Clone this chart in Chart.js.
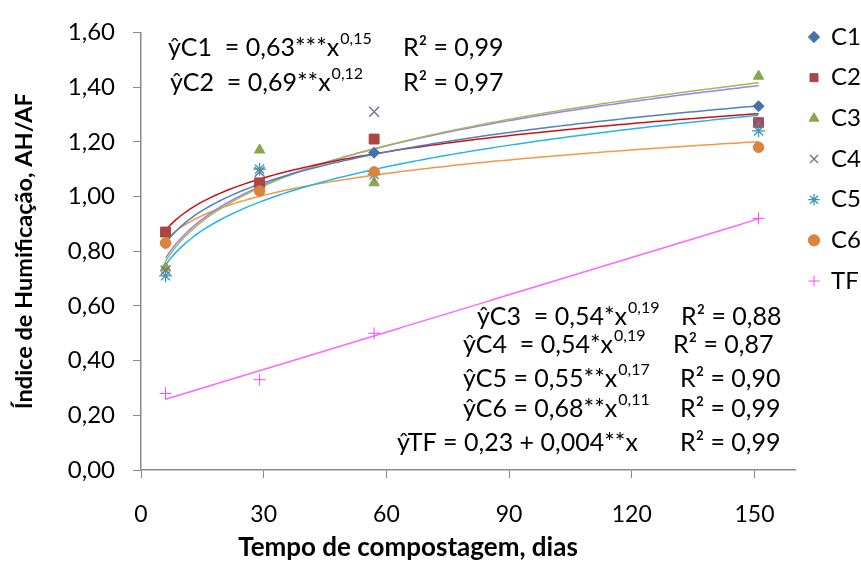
<!DOCTYPE html>
<html>
<head>
<meta charset="utf-8">
<script src="https://cdn.jsdelivr.net/npm/chart.js@4.4.1/dist/chart.umd.min.js"></script>
<style>
  html, body { margin: 0; padding: 0; background: #ffffff; }
  #chart { display: block; }
</style>
</head>
<body>
<canvas id="chart" width="861" height="562"></canvas>
<script>
// Sampling days and humification index (AH/AF) per treatment
const days = [6, 29, 57, 151];
const seriesNames = ['C1', 'C2', 'C3', 'C4', 'C5', 'C6', 'TF'];
const c1 = [0.83, 1.04, 1.16, 1.33];
const c2 = [0.87, 1.05, 1.21, 1.27];
const c3 = [0.74, 1.17, 1.05, 1.44];
const c4 = [0.73, 1.09, 1.31, 1.27];
const c5 = [0.71, 1.10, 1.08, 1.24];
const c6 = [0.83, 1.02, 1.09, 1.18];
const tf = [0.28, 0.33, 0.50, 0.92];

// Axis ticks
const xTicks = [0, 30, 60, 90, 120, 150];
const yTicks = [0, 0.2, 0.4, 0.6, 0.8, 1.0, 1.2, 1.4, 1.6];
const yTickLabels = ['0,00', '0,20', '0,40', '0,60', '0,80', '1,00', '1,20', '1,40', '1,60'];

// Regression equations as printed on the chart
const eqLhs = ['ŷC1  = 0,63***x', 'ŷC2  = 0,69**x', 'ŷC3  = 0,54*x', 'ŷC4  = 0,54*x', 'ŷC5 = 0,55**x', 'ŷC6 = 0,68**x', 'ŷTF = 0,23 + 0,004**x'];
const eqExp = ['0,15', '0,12', '0,19', '0,19', '0,17', '0,11', ''];
const eqR2 = ['R² = 0,99', 'R² = 0,97', 'R² = 0,88', 'R² = 0,87', 'R² = 0,90', 'R² = 0,99', 'R² = 0,99'];

const xTitle = 'Tempo de compostagem, dias';
const yTitle = 'Índice de Humificação, AH/AF';

// ---- styling ----
const FONT = 'Lato';
const LEGEND_FONT = 24;
const LEGEND_GAP = 40.67 - LEGEND_FONT;
const seriesValues = [c1, c2, c3, c4, c5, c6, tf];
const markerStyle = [
  { pointStyle: 'rectRot',  radius: 5.5, fill: '#4572a7', stroke: '#4572a7', bw: 1 },
  { pointStyle: 'rect',     radius: 7,   fill: '#aa4643', stroke: '#aa4643', bw: 1 },
  { pointStyle: 'triangle', radius: 6,   fill: '#89a54e', stroke: '#89a54e', bw: 1 },
  { pointStyle: 'crossRot', radius: 7,   fill: '#80699b', stroke: '#80699b', bw: 1.4 },
  { pointStyle: 'star',     radius: 6.5, fill: '#3d96ae', stroke: '#3d96ae', bw: 1.3 },
  { pointStyle: 'circle',   radius: 5.3, fill: '#db843d', stroke: '#db843d', bw: 1 },
  { pointStyle: 'cross',    radius: 6,   fill: '#ff44ff', stroke: '#ff44ff', bw: 1 }
];
const trendColors = ['#4f81bd', '#cc1111', '#9bbb59', '#a27cf2', '#22b4ee', '#f79646', '#ff66ff'];

// Equation placement (canvas px)
const eqPos = [
  { x: 168, y: 48,  r2x: 403 },
  { x: 170, y: 83,  r2x: 403 },
  { x: 477, y: 317, r2x: 681 },
  { x: 463, y: 345, r2x: 673 },
  { x: 463, y: 379, r2x: 680 },
  { x: 463, y: 409, r2x: 680 },
  { x: 397, y: 443, r2x: 680 }
];

// ---- least-squares trend lines (power for composts, linear for TF) ----
function powerFit(xs, ys) {
  const lx = xs.map(Math.log), ly = ys.map(Math.log), n = xs.length;
  const mx = lx.reduce((a, b) => a + b, 0) / n, my = ly.reduce((a, b) => a + b, 0) / n;
  let sxx = 0, sxy = 0;
  for (let i = 0; i < n; i++) { sxx += (lx[i] - mx) ** 2; sxy += (lx[i] - mx) * (ly[i] - my); }
  const b = sxy / sxx, a = Math.exp(my - b * mx);
  return x => a * Math.pow(x, b);
}
function linearFit(xs, ys) {
  const n = xs.length;
  const mx = xs.reduce((a, b) => a + b, 0) / n, my = ys.reduce((a, b) => a + b, 0) / n;
  let sxx = 0, sxy = 0;
  for (let i = 0; i < n; i++) { sxx += (xs[i] - mx) ** 2; sxy += (xs[i] - mx) * (ys[i] - my); }
  const b = sxy / sxx, a = my - b * mx;
  return x => a + b * x;
}
function curve(f, xs) {
  const pts = [], x0 = xs[0], x1 = xs[xs.length - 1], steps = 120;
  for (let k = 0; k <= steps; k++) {
    const x = x0 + (x1 - x0) * k / steps;
    pts.push({ x, y: f(x) });
  }
  return pts;
}

const datasets = [];
seriesValues.forEach((vals, i) => {
  const m = markerStyle[i];
  datasets.push({
    label: seriesNames[i],
    data: days.map((d, j) => ({ x: d, y: vals[j] })),
    showLine: false,
    pointStyle: m.pointStyle,
    pointRadius: m.radius,
    pointHoverRadius: m.radius,
    pointBackgroundColor: m.fill,
    pointBorderColor: m.stroke,
    pointBorderWidth: m.bw,
    backgroundColor: m.fill,
    borderColor: m.stroke,
    order: 6 - i
  });
});
seriesValues.forEach((vals, i) => {
  const f = seriesNames[i] === 'TF' ? linearFit(days, vals) : powerFit(days, vals);
  datasets.push({
    label: seriesNames[i] + ' trend',
    data: curve(f, days),
    showLine: true,
    pointRadius: 0,
    pointHoverRadius: 0,
    borderColor: trendColors[i],
    backgroundColor: trendColors[i],
    borderWidth: 1.5,
    fill: false,
    tension: 0,
    order: 20 + i
  });
});

// Equations and the horizontal axis title
const annotations = {
  id: 'annotations',
  afterDraw(chart) {
    const ctx = chart.ctx;
    ctx.save();
    ctx.fillStyle = '#000';
    ctx.textAlign = 'left';
    ctx.textBaseline = 'middle';
    eqLhs.forEach((txt, i) => {
      const p = eqPos[i];
      ctx.font = `25px ${FONT}`;
      ctx.fillText(txt, p.x, p.y);
      const w = ctx.measureText(txt).width;
      if (eqExp[i]) {
        ctx.font = `16px ${FONT}`;
        ctx.fillText(eqExp[i], p.x + w + 1, p.y - 9);
      }
      ctx.font = `25px ${FONT}`;
      ctx.fillText(eqR2[i], p.r2x, p.y);
    });
    ctx.font = `bold 26px ${FONT}`;
    ctx.textAlign = 'center';
    ctx.fillText(xTitle, 408, 548);
    ctx.restore();
  }
};

// Position the legend column: first marker centred at (814, 37)
const legendPlacement = {
  id: 'legendPlacement',
  afterLayout(chart) {
    const lg = chart.legend;
    if (!lg) return;
    const dx = (814 - 5 - LEGEND_GAP) - lg.left;
    lg.left += dx; lg.right += dx;
    const dy = (37 - LEGEND_FONT / 2 - LEGEND_GAP) - lg.top;
    lg.top += dy; lg.bottom += dy;
  }
};

const axisColor = '#8a8a8a';

new Chart(document.getElementById('chart'), {
  type: 'scatter',
  data: { datasets },
  plugins: [annotations, legendPlacement],
  options: {
    responsive: false,
    animation: false,
    devicePixelRatio: 1,
    layout: { padding: { top: 27, right: -13, bottom: 0, left: 0 } },
    plugins: {
      tooltip: { enabled: false },
      legend: {
        position: 'right',
        align: 'start',
        labels: {
          usePointStyle: true,
          boxWidth: 10,
          boxHeight: 8,
          padding: LEGEND_GAP,
          color: '#000',
          font: { family: FONT, size: LEGEND_FONT },
          filter: item => item.datasetIndex < seriesNames.length,
          sort: (a, b) => a.datasetIndex - b.datasetIndex
        }
      }
    },
    scales: {
      x: {
        type: 'linear',
        min: 0,
        max: 160,
        afterBuildTicks: axis => { axis.ticks = xTicks.map(v => ({ value: v })); },
        afterFit: axis => { axis.height = 92; },
        grid: { display: true, drawOnChartArea: false, drawTicks: true, tickLength: 8, color: axisColor, lineWidth: 1 },
        border: { display: true, color: axisColor, width: 1.5 },
        ticks: { color: '#000', font: { family: FONT, size: 23 }, padding: 23, maxRotation: 0,
                 callback: v => String(v) }
      },
      y: {
        type: 'linear',
        min: 0,
        max: 1.6,
        afterBuildTicks: axis => { axis.ticks = yTicks.map(v => ({ value: v })); },
        afterFit: axis => { axis.width = 141; },
        grid: { display: true, drawOnChartArea: false, drawTicks: true, tickLength: 8, color: axisColor, lineWidth: 1 },
        border: { display: true, color: axisColor, width: 1.5 },
        ticks: { color: '#000', font: { family: FONT, size: 24 }, padding: 18,
                 callback: (v, idx) => yTickLabels[idx] },
        title: { display: true, text: yTitle, color: '#000', font: { family: FONT, size: 23.5, weight: 'bold' },
                 padding: { top: 10, bottom: 0 } }
      }
    }
  }
});
</script>
</body>
</html>
